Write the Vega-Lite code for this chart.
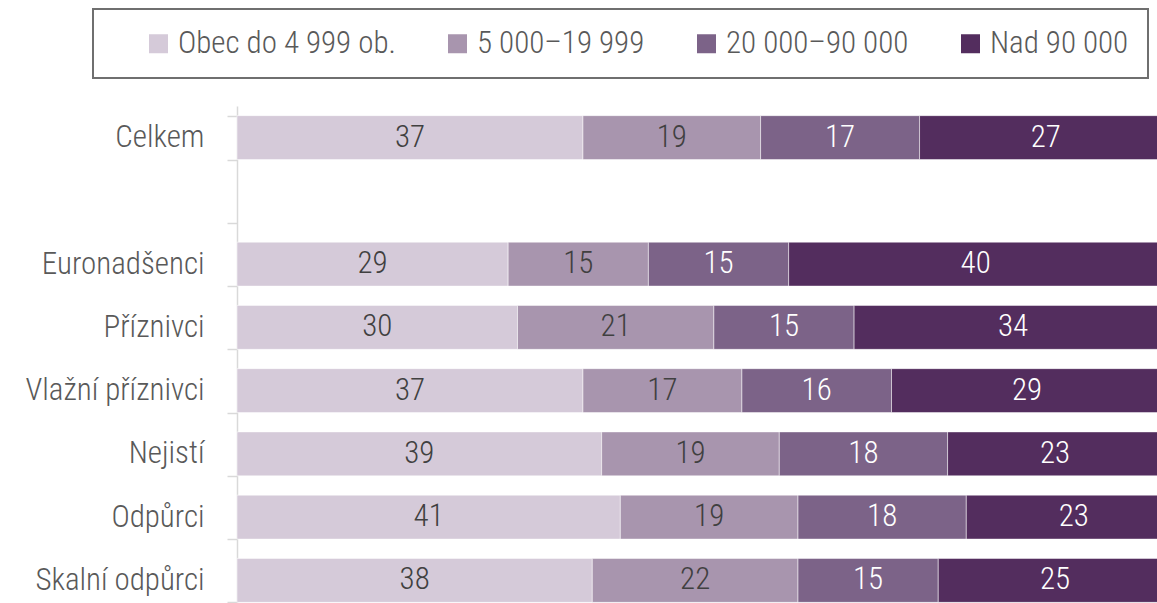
{
  "$schema": "https://vega.github.io/schema/vega-lite/v6.json",
  "width": 935,
  "height": 506,
  "autosize": {"type": "none"},
  "padding": {"left": 237, "top": 106, "right": 0, "bottom": 0},
  "background": "white",
  "config": {"view": {"stroke": null}, "font": "Roboto Condensed Light, Roboto Condensed, Liberation Sans Narrow, sans-serif", "legend": {"strokeWidth": 2}},
  "data": {"values": [
    {"group": "Celkem", "cat": "Obec do 4 999 ob.", "k": 1, "value": 37},
    {"group": "Celkem", "cat": "5 000–19 999", "k": 2, "value": 19},
    {"group": "Celkem", "cat": "20 000–90 000", "k": 3, "value": 17},
    {"group": "Celkem", "cat": "Nad 90 000", "k": 4, "value": 27},
    {"group": "Euronadšenci", "cat": "Obec do 4 999 ob.", "k": 1, "value": 29},
    {"group": "Euronadšenci", "cat": "5 000–19 999", "k": 2, "value": 15},
    {"group": "Euronadšenci", "cat": "20 000–90 000", "k": 3, "value": 15},
    {"group": "Euronadšenci", "cat": "Nad 90 000", "k": 4, "value": 40},
    {"group": "Příznivci", "cat": "Obec do 4 999 ob.", "k": 1, "value": 30},
    {"group": "Příznivci", "cat": "5 000–19 999", "k": 2, "value": 21},
    {"group": "Příznivci", "cat": "20 000–90 000", "k": 3, "value": 15},
    {"group": "Příznivci", "cat": "Nad 90 000", "k": 4, "value": 34},
    {"group": "Vlažní příznivci", "cat": "Obec do 4 999 ob.", "k": 1, "value": 37},
    {"group": "Vlažní příznivci", "cat": "5 000–19 999", "k": 2, "value": 17},
    {"group": "Vlažní příznivci", "cat": "20 000–90 000", "k": 3, "value": 16},
    {"group": "Vlažní příznivci", "cat": "Nad 90 000", "k": 4, "value": 29},
    {"group": "Nejistí", "cat": "Obec do 4 999 ob.", "k": 1, "value": 39},
    {"group": "Nejistí", "cat": "5 000–19 999", "k": 2, "value": 19},
    {"group": "Nejistí", "cat": "20 000–90 000", "k": 3, "value": 18},
    {"group": "Nejistí", "cat": "Nad 90 000", "k": 4, "value": 23},
    {"group": "Odpůrci", "cat": "Obec do 4 999 ob.", "k": 1, "value": 41},
    {"group": "Odpůrci", "cat": "5 000–19 999", "k": 2, "value": 19},
    {"group": "Odpůrci", "cat": "20 000–90 000", "k": 3, "value": 18},
    {"group": "Odpůrci", "cat": "Nad 90 000", "k": 4, "value": 23},
    {"group": "Skalní odpůrci", "cat": "Obec do 4 999 ob.", "k": 1, "value": 38},
    {"group": "Skalní odpůrci", "cat": "5 000–19 999", "k": 2, "value": 22},
    {"group": "Skalní odpůrci", "cat": "20 000–90 000", "k": 3, "value": 15},
    {"group": "Skalní odpůrci", "cat": "Nad 90 000", "k": 4, "value": 25}
  ]},
  "transform": [
    {"stack": "value", "groupby": ["group"], "sort": [{"field": "k", "order": "ascending"}], "as": ["x0", "x1"]},
    {"calculate": "(datum.x0 + datum.x1) / 2", "as": "mid"}
  ],
  "encoding": {
    "y": {
      "field": "group", "type": "nominal",
      "scale": {"domain": ["Celkem", " ", "Euronadšenci", "Příznivci", "Vlažní příznivci", "Nejistí", "Odpůrci", "Skalní odpůrci"], "paddingInner": 0.305, "paddingOuter": 0.1525},
      "axis": {"title": null, "domainColor": "#d9d9d9", "domainWidth": 1.5, "tickColor": "#d9d9d9", "tickWidth": 1.5, "tickSize": 10, "tickBand": "extent", "labelFontSize": 31, "labelFontWeight": 300, "labelColor": "#595959", "labelPadding": 23}
    }
  },
  "layer": [
    {
      "mark": {"type": "bar", "stroke": "white", "strokeWidth": 1, "strokeOpacity": 0.5},
      "encoding": {
        "x": {"field": "x0", "type": "quantitative", "scale": {"domain": [0, 100]}, "axis": null},
        "x2": {"field": "x1"},
        "color": {
          "field": "cat", "type": "nominal",
          "scale": {"domain": ["Obec do 4 999 ob.", "5 000–19 999", "20 000–90 000", "Nad 90 000"], "range": ["#d5cad9", "#a895ae", "#7c6388", "#532d5e"]},
          "legend": {"title": " ", "titleOrient": "left", "titlePadding": 31, "titleFontSize": 2, "orient": "none", "legendX": -144, "legendY": -97, "direction": "horizontal", "strokeColor": "#6f6f6f", "padding": 19, "symbolType": "square", "symbolSize": 361, "symbolStrokeWidth": 0, "symbolOpacity": 1, "labelFontSize": 31, "labelFontWeight": 300, "labelColor": "#595959", "labelOffset": 4, "columnPadding": 46, "labelLimit": 400}
        }
      }
    },
    {
      "mark": {"type": "text", "fontSize": 31, "fontWeight": 300, "align": "center", "baseline": "middle"},
      "encoding": {
        "x": {"field": "mid", "type": "quantitative"},
        "text": {"field": "value", "type": "quantitative"},
        "color": {"condition": {"test": "datum.k >= 3", "value": "#ffffff"}, "value": "#404040"}
      }
    }
  ]
}
